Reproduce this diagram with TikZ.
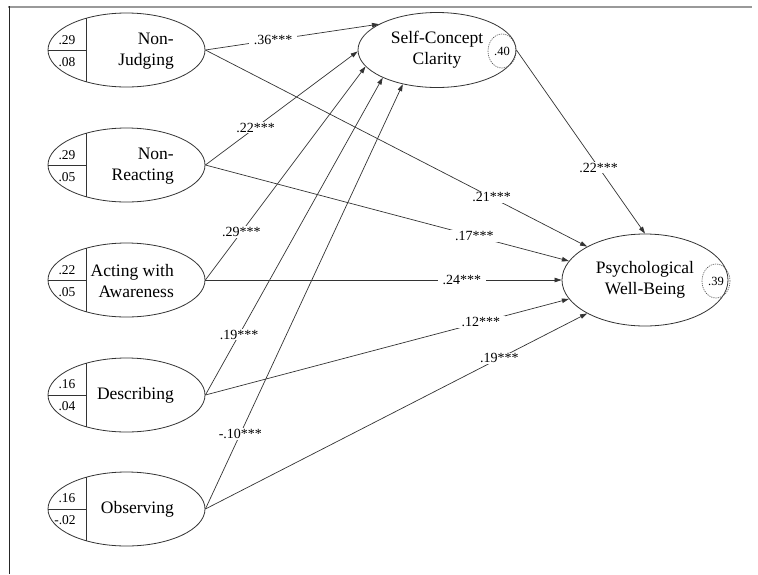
\documentclass[tikz,border=0pt]{standalone}
\usepackage{fontspec}
\setmainfont{Liberation Serif}
\usetikzlibrary{shapes.geometric,arrows.meta}
\begin{document}
\begin{tikzpicture}[x=1pt,y=-1pt,
 lat/.style={ellipse,draw=black!80,line width=0.8pt,minimum width=157pt,minimum height=74pt,inner sep=0pt},
 big/.style={ellipse,draw=black!80,line width=0.8pt,inner sep=0pt,align=center,font=\fontsize{17.5}{21}\selectfont},
 res/.style={ellipse,draw=black!70,line width=0.6pt,dash pattern=on 1.2pt off 1pt,minimum width=28pt,minimum height=34pt,inner sep=0pt,font=\fontsize{12.5}{14}\selectfont},
 lbl/.style={font=\fontsize{17.5}{21}\selectfont,align=right,anchor=east,inner sep=0pt},
 num/.style={font=\fontsize{13.5}{15}\selectfont,inner sep=0pt},
 conn/.style={draw=black!80,line width=0.7pt,-{Triangle[length=7pt,width=4.5pt]}},
 coef/.style={fill=white,inner xsep=5pt,inner ysep=1pt,font=\fontsize{14}{16}\selectfont},
 divl/.style={draw=black!80,line width=0.8pt}
]
\useasboundingbox (0,0) rectangle (758,574);
% frame
\draw[black!40,line width=1.8pt] (8,7) -- (752,7);
\draw[black!85,line width=1pt] (9,6) -- (9,574);

% left latent variables
\node[lat] (nj) at (126.5,50) {};
\node[lat] (nr) at (126.5,165) {};
\node[lat] (awa) at (126.5,280) {};
\node[lat] (des) at (126.5,395) {};
\node[lat] (obs) at (126.5,509) {};

\foreach \n in {nj,nr,awa,des,obs}{
 \begin{scope}
 \clip (\n.center) ellipse [x radius=78.5pt, y radius=37pt];
 \draw[divl] ([xshift=-40.5pt,yshift=40pt]\n.center) -- ([xshift=-40.5pt,yshift=-40pt]\n.center);
 \draw[divl] ([xshift=-85pt]\n.center) -- ([xshift=-40.5pt]\n.center);
 \end{scope}
}

\node[lbl] (njt) at (174,51) {Non-\\Judging};
\node[lbl] (nrt) at (174,166) {Non-\\Reacting};
\node[lbl] (awat) at (174,281) {Acting with\\Awareness};
\node[lbl] (dest) at (174,395) {Describing};
\node[lbl] (obst) at (174,509) {Observing};

\node[num] (nja) at (67,40) {.29};
\node[num] (njb) at (67,62) {.08};
\node[num] (nra) at (67,155) {.29};
\node[num] (nrb) at (67,177) {.05};
\node[num] (awaa) at (67,270) {.22};
\node[num] (awab) at (67,292) {.05};
\node[num] (desa) at (67,384) {.16};
\node[num] (desb) at (67,406) {.04};
\node[num] (obsa) at (67,498) {.16};
\node[num] (obsb) at (65,520) {-.02};

% outcomes
\node[big,minimum width=158pt,minimum height=75pt] (scc) at (437,50) {Self-Concept\\Clarity};
\node[res] (sccr) at (502,51) {.40};
\node[big,minimum width=166pt,minimum height=92pt] (pwb) at (645,280) {Psychological\\Well-Being};
\node[res] (pwbr) at (716,281) {.39};

% paths to SCC
\draw[conn] (nj.east) -- node[coef,pos=.39]{.36***} (scc.156);
\draw[conn] (nr.east) -- node[coef,pos=.33]{.22***} (scc.181);
\draw[conn] (awa.east) -- node[coef,pos=.225]{.29***} (scc.193);
\draw[conn] (des.east) -- node[coef,pos=.19]{.19***} (scc.207);
\draw[conn] (obs.east) -- node[coef,pos=.177]{-.10***} (scc.225);

% paths to PWB
\draw[conn] (nj.east) -- node[coef,pos=.75]{.21***} (pwb.150);
\draw[conn] (nr.east) -- node[coef,pos=.74]{.17***} (pwb.166);
\draw[conn] (awa.east) -- node[coef,pos=.72]{.24***} (pwb.west);
\draw[conn] (des.east) -- node[coef,pos=.758]{.12***} (pwb.194);
\draw[conn] (obs.east) -- node[coef,pos=.77]{.19***} (pwb.210);
\draw[conn] (scc.east) -- node[coef,pos=.64]{.22***} (pwb.north);
\end{tikzpicture}
\end{document}
